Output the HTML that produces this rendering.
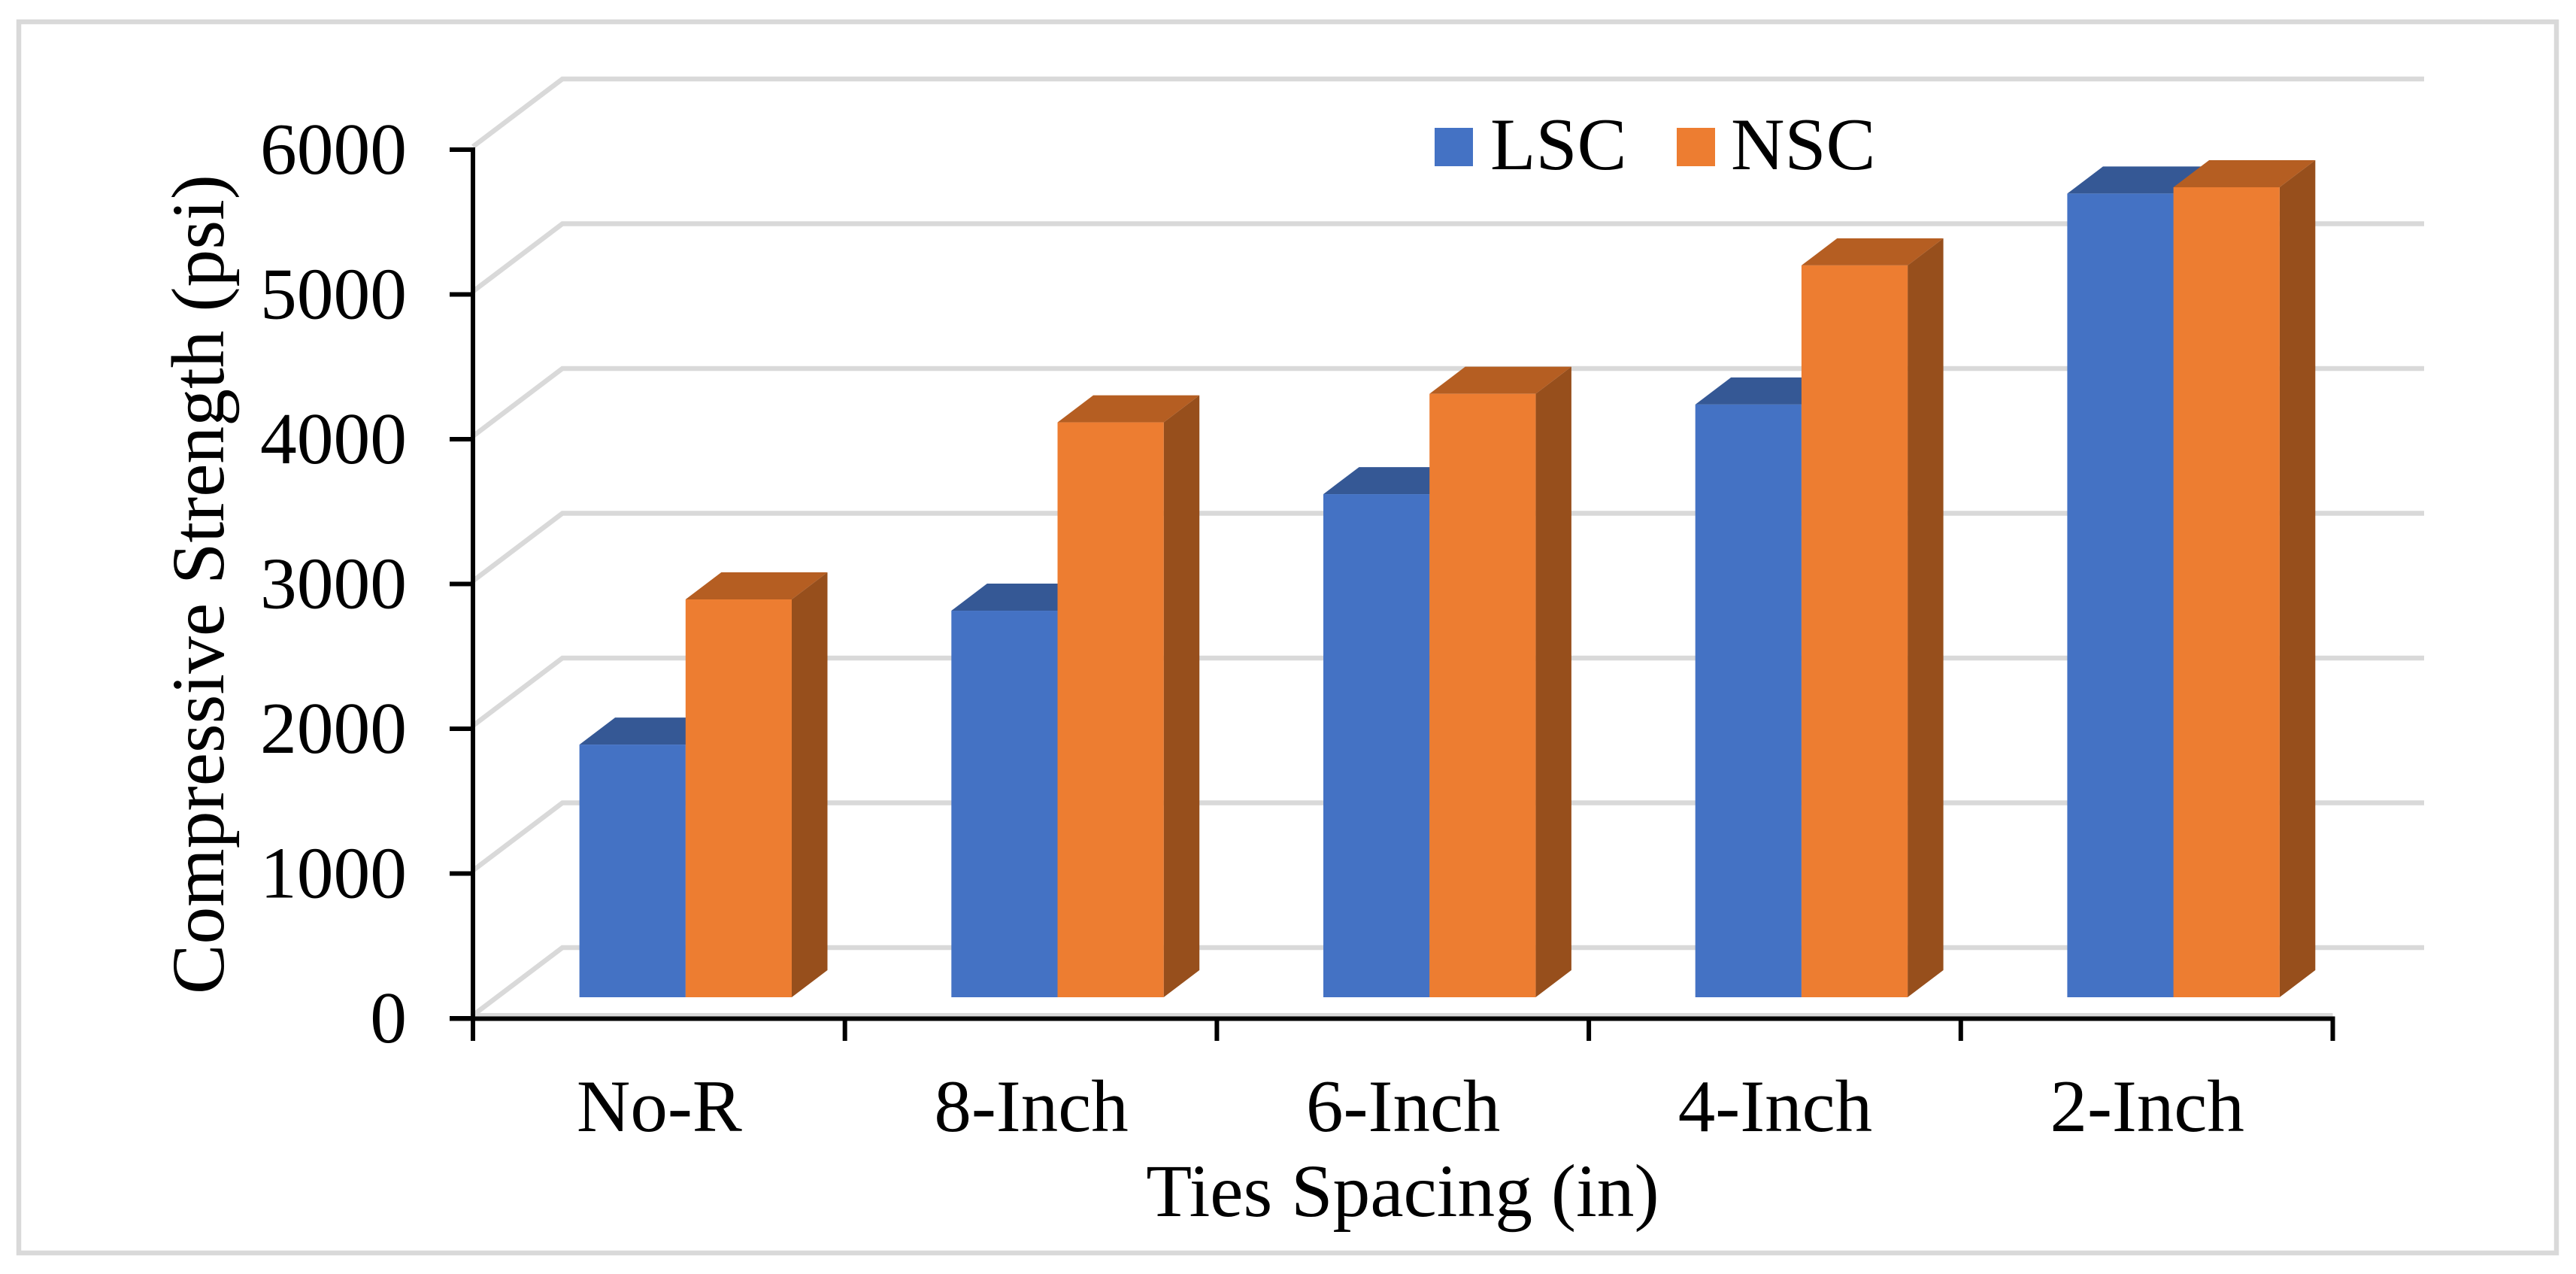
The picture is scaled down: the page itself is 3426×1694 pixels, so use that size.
<!DOCTYPE html>
<html lang="en">
<head>
<meta charset="utf-8">
<title>Compressive Strength vs Ties Spacing</title>
<style>
html,body{margin:0;padding:0;background:#fff;}
body{width:3426px;height:1694px;overflow:hidden;}
svg{display:block;}
text{font-family:"Liberation Serif","Times New Roman",serif;fill:#000;font-size:99px;}
</style>
</head>
<body>
<svg id="chart" xmlns="http://www.w3.org/2000/svg" width="3426" height="1694" viewBox="0 0 3426 1694">
  <rect x="0" y="0" width="3426" height="1694" fill="#ffffff"/>
  <rect x="25" y="29" width="3375" height="1637" fill="none" stroke="#d9d9d9" stroke-width="6.5"/>
  <g id="grid"></g>
  <g id="bars"></g>
  <g id="axes"></g>
  <text transform="translate(297,777) rotate(-90)" text-anchor="middle" style="font-size:99.6px">Compressive Strength (psi)</text>
  <text x="1865.5" y="1617" text-anchor="middle" style="font-size:99.6px">Ties Spacing (in)</text>
  <g>
    <rect x="1908" y="170" width="51" height="51" fill="#4472c4"/>
    <text x="1982" y="225">LSC</text>
    <rect x="2230" y="170" width="51" height="51" fill="#ed7d31"/>
    <text x="2302" y="225">NSC</text>
  </g>
</svg>
<script>
const categories = ['No-R', '8-Inch', '6-Inch', '4-Inch', '2-Inch'];
const lscValues = [1745, 2670, 3475, 4094, 5551];
const nscValues = [2748, 3971, 4168, 5055, 5595];
const yTickLabels = [0, 1000, 2000, 3000, 4000, 5000, 6000];

const NS = 'http://www.w3.org/2000/svg';
const Y0 = 1354, PX_PER_UNIT = 0.1925;
const X0 = 629, BAND = 494.7;
const BAR_OFFSET = 141.6, BAR_W = 141.2;
const BASE_Y = 1326, DEPTH_X = 47.5, DEPTH_Y = 36;
const WALL_DX = 119, WALL_DY = 90, WALL_RIGHT = 3224;

const yScale = v => Y0 - v * PX_PER_UNIT;
const xBand = i => X0 + BAND * i;
const barTop = v => BASE_Y - v * PX_PER_UNIT;

function mk(parent, tag, attrs) {
  const el = document.createElementNS(NS, tag);
  for (const k in attrs) el.setAttribute(k, attrs[k]);
  parent.appendChild(el);
  return el;
}
const pts = a => a.map(p => p[0] + ',' + p[1]).join(' ');

const grid = document.getElementById('grid');
const bars = document.getElementById('bars');
const axes = document.getElementById('axes');

/* gridlines: diagonal on the side wall, horizontal on the back wall */
yTickLabels.forEach(t => {
  const fy = yScale(t) - 4;
  const line = mk(grid, 'polyline', {
    points: pts([[X0, fy], [X0 + WALL_DX, fy - WALL_DY], [WALL_RIGHT, fy - WALL_DY]]),
    fill: 'none', stroke: '#d9d9d9', 'stroke-width': 6.5
  });
  
  
});
const floorEdge = mk(grid, 'line', {
  x1: X0, y1: Y0 - 4, x2: xBand(categories.length), y2: Y0 - 4, stroke: '#d9d9d9', 'stroke-width': 6
});



/* 3D bars */
function drawBar(x, v, front, top, side, name) {
  const y = barTop(v);
  const g = mk(bars, 'g', {});
  
  
  mk(g, 'polygon', {
    points: pts([[x, y], [x + DEPTH_X, y - DEPTH_Y], [x + BAR_W + DEPTH_X, y - DEPTH_Y], [x + BAR_W, y]]),
    fill: top
  });
  mk(g, 'polygon', {
    points: pts([[x + BAR_W, y], [x + BAR_W + DEPTH_X, y - DEPTH_Y], [x + BAR_W + DEPTH_X, BASE_Y - DEPTH_Y], [x + BAR_W, BASE_Y]]),
    fill: side
  });
  mk(g, 'rect', { x: x, y: y, width: BAR_W, height: BASE_Y - y, fill: front });
}
categories.forEach((c, i) => {
  const left = xBand(i) + BAR_OFFSET;
  drawBar(left, lscValues[i], '#4472c4', '#355895', '#2a4478', 'bar-lsc-' + c.toLowerCase());
  drawBar(left + BAR_W, nscValues[i], '#ed7d31', '#b55e22', '#974f1c', 'bar-nsc-' + c.toLowerCase());
});

/* axes */
const yAxis = mk(axes, 'line', { x1: X0, y1: yScale(6000) - 3, x2: X0, y2: Y0 + 30, stroke: '#000', 'stroke-width': 6 });


const xAxis = mk(axes, 'line', { x1: 598, y1: Y0 + 0.5, x2: xBand(categories.length) + 3, y2: Y0 + 0.5, stroke: '#000', 'stroke-width': 6 });



yTickLabels.forEach(t => {
  const y = yScale(t);
  const tick = mk(axes, 'line', { x1: 598, y1: y, x2: X0, y2: y, stroke: '#000', 'stroke-width': 6 });
  
  
  const label = mk(axes, 'text', { x: 541, y: y + 32, 'text-anchor': 'end', style: 'font-size:97.5px' });
  label.textContent = String(t);
  
  
});

for (let i = 0; i <= categories.length; i++) {
  const x = xBand(i);
  const tick = mk(axes, 'line', { x1: x, y1: Y0, x2: x, y2: Y0 + 30, stroke: '#000', 'stroke-width': 6 });
  
  
}
categories.forEach((c, i) => {
  const label = mk(axes, 'text', { x: xBand(i) + BAND / 2 + 0.5, y: 1504, 'text-anchor': 'middle' });
  label.textContent = c;
  
  
});
</script>
</body>
</html>
